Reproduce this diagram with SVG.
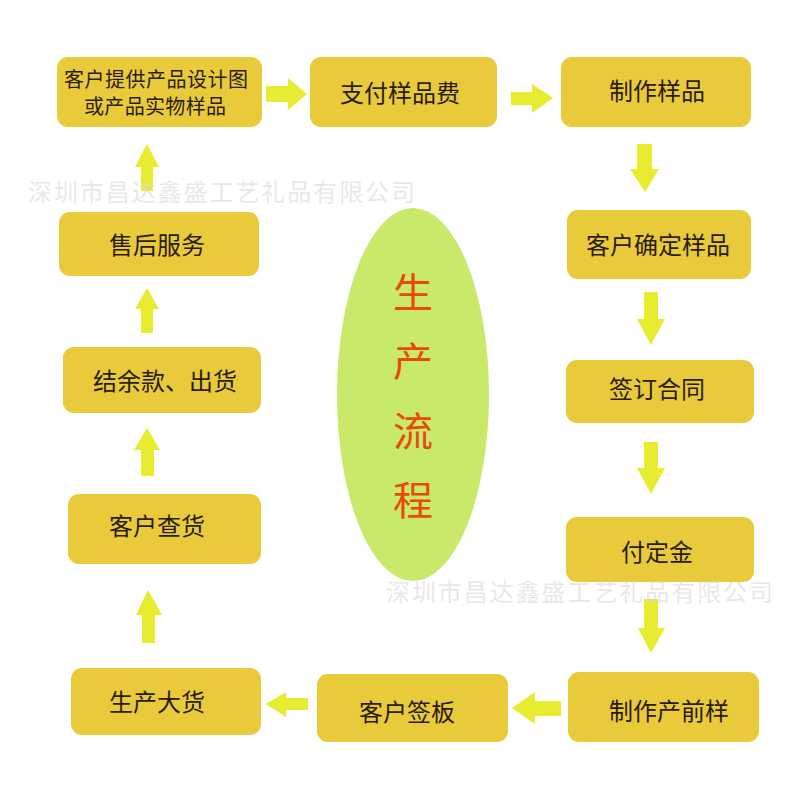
<svg xmlns="http://www.w3.org/2000/svg" width="800" height="800" viewBox="0 0 800 800">
<style>
.box{fill:#e9ca3a;}
.t{font-family:"Noto Sans CJK SC","Noto Sans",sans-serif;font-size:24px;fill:#2a1c0c;text-anchor:middle;dominant-baseline:central;}
.t2{font-size:20px;}
.arr{fill:#e7ec30;}
.title{font-family:"Noto Sans CJK SC","Noto Sans",sans-serif;font-size:40px;fill:#e8490f;text-anchor:middle;dominant-baseline:central;}
.wm{font-family:"Noto Sans CJK SC","Noto Sans",sans-serif;font-size:24px;fill:#d8d8d8;fill-opacity:0.6;dominant-baseline:central;}
</style>
<rect width="800" height="800" fill="#ffffff"/>
<g id="center">
<ellipse cx="413" cy="394.5" rx="76" ry="186.5" fill="#c8e96a"/>
<text class="title" x="413" y="290">生</text>
<text class="title" x="413" y="359">产</text>
<text class="title" x="413" y="429">流</text>
<text class="title" x="413" y="498">程</text>
</g>
<g id="connectors">
<polygon class="arr" points="266,86 288,86 288,78 307,94 288,110 288,102 266,102"/>
<polygon class="arr" points="511,92 532,92 532,84 553,98 532,113 532,105 511,105"/>
<polygon class="arr" points="637,144 652,144 652,169 659,169 645,192 630,169 637,169"/>
<polygon class="arr" points="644,292 658,292 658,319 665,319 651,345 637,319 644,319"/>
<polygon class="arr" points="644,442 658,442 658,468 665,468 651,494 637,468 644,468"/>
<polygon class="arr" points="644,599 658,599 658,628 665,628 651,653 638,628 644,628"/>
<polygon class="arr" points="561,701 535,701 535,692 512,708 535,724 535,716 561,716"/>
<polygon class="arr" points="308,698 286,698 286,692 266,704 286,717 286,710 308,710"/>
<polygon class="arr" points="142,643 155,643 155,615 162,615 148,590 136,615 142,615"/>
<polygon class="arr" points="141,476 154,476 154,450 160,450 147,428 134,450 141,450"/>
<polygon class="arr" points="141,333 153,333 153,309 159,309 147,288 135,309 141,309"/>
<polygon class="arr" points="141,191 153,191 153,167 159,167 147,144 135,167 141,167"/>
</g>
<g id="n1"><rect class="box" x="57" y="57" width="205" height="70" rx="11"/>
<text class="t t2" x="156" y="78" textLength="184" lengthAdjust="spacing">客户提供产品设计图</text>
<text class="t t2" x="155" y="105" textLength="142" lengthAdjust="spacing">或产品实物样品</text></g>
<g id="n2"><rect class="box" x="310" y="57" width="187" height="70" rx="11"/>
<text class="t" x="400" y="91">支付样品费</text></g>
<g id="n3"><rect class="box" x="561" y="57" width="190" height="70" rx="11"/>
<text class="t" x="657" y="89">制作样品</text></g>
<g id="n4"><rect class="box" x="567" y="210" width="184" height="69" rx="11"/>
<text class="t" x="658" y="243">客户确定样品</text></g>
<g id="n5"><rect class="box" x="566" y="360" width="188" height="63" rx="11"/>
<text class="t" x="657" y="387">签订合同</text></g>
<g id="n6"><rect class="box" x="566" y="517" width="188" height="65" rx="11"/>
<text class="t" x="657" y="550">付定金</text></g>
<g id="n7"><rect class="box" x="568" y="672" width="191" height="70" rx="11"/>
<text class="t" x="669" y="709">制作产前样</text></g>
<g id="n8"><rect class="box" x="317" y="674" width="191" height="68" rx="11"/>
<text class="t" x="407" y="710">客户签板</text></g>
<g id="n9"><rect class="box" x="71" y="668" width="190" height="67" rx="11"/>
<text class="t" x="157" y="700">生产大货</text></g>
<g id="n10"><rect class="box" x="68" y="494" width="193" height="70" rx="11"/>
<text class="t" x="157" y="524">客户查货</text></g>
<g id="n11"><rect class="box" x="63" y="347" width="198" height="66" rx="11"/>
<text class="t" x="165" y="379">结余款、出货</text></g>
<g id="n12"><rect class="box" x="59" y="212" width="200" height="64" rx="11"/>
<text class="t" x="157" y="243">售后服务</text></g>
<g id="watermarks">
<text class="wm" x="28" y="190" textLength="387" lengthAdjust="spacing">深圳市昌达鑫盛工艺礼品有限公司</text>
<text class="wm" x="386" y="590" textLength="387" lengthAdjust="spacing">深圳市昌达鑫盛工艺礼品有限公司</text>
</g>
</svg>
